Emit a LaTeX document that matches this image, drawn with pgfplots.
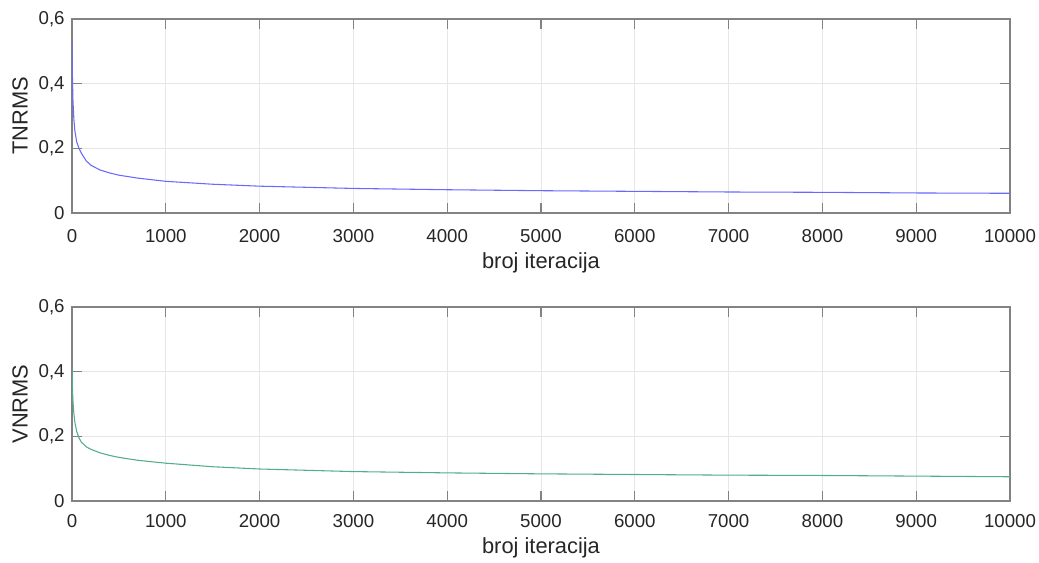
\documentclass[border=0pt]{standalone}
\usepackage{pgfplots}
\pgfplotsset{compat=1.18}
\usepackage{fontspec}
\setmainfont{Liberation Sans}
\definecolor{txt}{RGB}{38,38,38}
\definecolor{axc}{RGB}{130,130,130}
\definecolor{gridc}{RGB}{230,230,230}
\definecolor{lblue}{RGB}{105,105,255}
\definecolor{lgreen}{RGB}{80,175,135}
\pgfplotsset{
  myax/.style={
    scale only axis,
    width=703.5pt, height=145.5pt,
    xmin=0, xmax=10000, ymin=0, ymax=0.6,
    xtick={0,1000,...,10000},
    ytick={0,0.2,0.4,0.6},
    yticklabels={0,{0,2},{0,4},{0,6}},
    scaled x ticks=false,
    /pgf/number format/1000 sep={},
    /pgf/number format/assume math mode=true,
    tick align=inside,
    major tick length=7.5pt,
    grid=major,
    major grid style={gridc, line width=0.6pt},
    axis line style={axc, line width=0.8pt},
    every tick/.style={axc, line width=0.8pt},
    tick label style={font=\fontsize{14}{16}\selectfont, text=txt},
    label style={font=\fontsize{16.4}{19}\selectfont, text=txt},
    yticklabel style={xshift=-2pt},
    xlabel={broj iteracija},
    xlabel style={at={(axis description cs:0.5,0)}, anchor=base},
    ylabel style={at={(axis description cs:0,0.5)}, anchor=center, yshift=39pt},
    anchor=south west,
  }
}
\begin{document}
\begin{tikzpicture}
\useasboundingbox (0,0) rectangle (779.25pt,-421.5pt);
\begin{axis}[myax, at={(54pt,-159.75pt)}, ylabel={TNRMS},
  xticklabel style={yshift=-9pt},
  xlabel style={yshift=-41.25pt}]
\addplot[lblue, line width=0.8pt] coordinates {
(0,0.535) (5,0.42) (10,0.35) (20,0.29) (30,0.255) (50,0.22) (75,0.2) (100,0.185)
(150,0.162) (200,0.148) (300,0.133) (400,0.124) (500,0.117) (700,0.108) (1000,0.098)
(1500,0.089) (2000,0.083) (3000,0.076) (4000,0.072) (5000,0.069) (6000,0.067)
(7000,0.065) (8000,0.064) (9000,0.062) (10000,0.061)};
\end{axis}
\begin{axis}[myax, at={(54pt,-375.75pt)}, ylabel={VNRMS},
  xticklabel style={yshift=-6.5pt},
  xlabel style={yshift=-39pt}]
\addplot[lgreen, line width=0.8pt] coordinates {
(0,0.41) (5,0.35) (10,0.31) (20,0.27) (30,0.245) (50,0.215) (75,0.195) (100,0.182)
(150,0.168) (200,0.16) (300,0.149) (400,0.141) (500,0.135) (700,0.126) (1000,0.117)
(1500,0.106) (2000,0.099) (3000,0.091) (4000,0.087) (5000,0.084) (6000,0.082)
(7000,0.080) (8000,0.079) (9000,0.077) (10000,0.075)};
\end{axis}
\end{tikzpicture}
\end{document}
